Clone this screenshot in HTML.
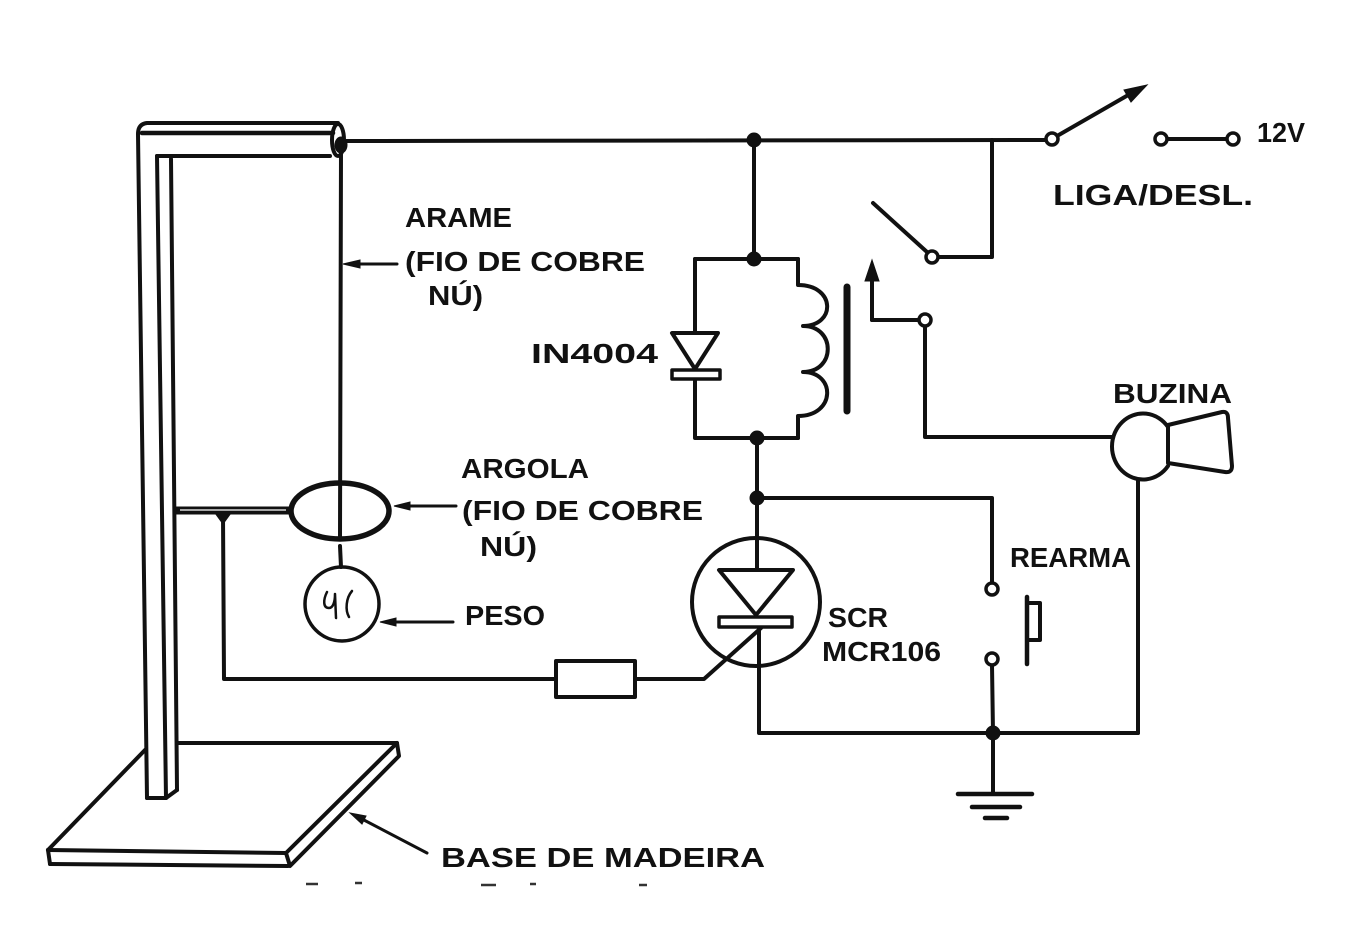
<!DOCTYPE html>
<html><head><meta charset="utf-8"><style>
html,body{margin:0;padding:0;background:#fff;}
svg{display:block;}
text{font-family:"Liberation Sans",sans-serif;font-weight:bold;fill:#111;}
</style></head><body>
<svg width="1361" height="929" viewBox="0 0 1361 929" xmlns="http://www.w3.org/2000/svg">
<rect width="1361" height="929" fill="#fff"/>
<g stroke="#111" stroke-width="4" fill="none" stroke-linecap="round" stroke-linejoin="round">
<!-- stand -->
<path d="M147,798 L138,134 Q138,124 147,123 L338,123"/>
<path d="M142,133 L333,133" stroke-width="4.5"/>
<path d="M157,156 L330,156"/>
<path d="M157,156 L166,798"/>
<path d="M171,159 L177,790"/>
<path d="M147,798 L166,798 L177,790"/>
<ellipse cx="338" cy="140" rx="6" ry="16"/>
<!-- base -->
<path d="M177,743 L397,743"/>
<path d="M145,750 L48,850"/>
<path d="M48,850 L286,853"/>
<path d="M50,864 L288,866"/>
<path d="M48,850 L50,864"/>
<path d="M286,853 L397,743 L399,756 L290,866 L286,853"/>
<!-- argola support -->
<path d="M176,510.5 L290,510.5" stroke-width="8" stroke-linecap="butt"/>
<ellipse cx="340" cy="511" rx="49" ry="28" stroke-width="5.5"/>
<!-- arame wire -->
<path d="M341,150 L340,538 M340,546 L341,567"/>
<!-- peso -->
<circle cx="342" cy="604" r="37" stroke-width="3.5"/>
<path d="M327,592 C323,600 323,608 329,608 C333,608 335,602 335,594 M335,594 L336,618 M352,591 C346,598 345,610 349,617" stroke-width="2.5"/>
<!-- gate wire + resistor -->
<path d="M223,515 L224,679 L556,679"/>
<rect x="556" y="661" width="79" height="36" stroke-width="4"/>
<path d="M635,679 L704,679 L761,628"/>
<!-- top wire -->
<path d="M343,141 L1046,140"/>
<path d="M754,140 L754,259"/>
<!-- relay coil branch -->
<path d="M695,259 L798,259"/>
<path d="M695,259 L695,333"/>
<path d="M695,380 L695,438 L798,438"/>
<path d="M798,259 V285 C836,285 836,326 803,326 C836,326 836,372 803,372 C836,372 836,416 798,416 V438"/>
<path d="M847,287 L847,411" stroke-width="7"/>
<!-- relay contacts -->
<path d="M872,320 L872,278"/>
<path d="M872,320 L919,320"/>
<path d="M925,326 L925,437 L1112,437"/>
<path d="M927,252 L873,203"/>
<path d="M938,257 L992,257 L992,140"/>
<!-- main switch -->
<path d="M1057,136 L1130,94"/>
<path d="M1167,139 L1227,139"/>
<!-- SCR -->
<circle cx="756" cy="602" r="64" stroke-width="4"/>
<path d="M757,438 L757,570"/>
<path d="M759,627 L759,733 L1138,733"/>
<path d="M1138,480 L1138,733"/>
<!-- rearma -->
<path d="M757,498 L992,498 L992,582"/>
<path d="M992,665 L993,733 L993,793"/>
<path d="M958,794 L1032,794" stroke-width="4.5"/>
<path d="M972,807 L1020,807" stroke-width="4.5"/>
<path d="M985,818 L1007,818" stroke-width="4.5"/>
<path d="M1027,597 L1027,664" stroke-width="4.5"/>
<path d="M1027,603 H1040 V640 H1027"/>
<!-- buzzer -->
<path d="M1168,427 A31 33 0 1 0 1168,466"/>
<path d="M1168,425 L1222,412 Q1228,411 1228,418 L1232,466 Q1232,473 1225,472 L1168,463 Z"/>
<!-- label arrows -->
<path d="M355,264 L397,264" stroke-width="3"/>
<path d="M406,506 L456,506" stroke-width="3"/>
<path d="M392,622 L453,622" stroke-width="3"/>
<path d="M362,819 L427,853" stroke-width="3"/>
</g>
<!-- highlight in support bar -->
<path d="M180,510 L286,510" stroke="#fff" stroke-width="1.2"/>
<!-- filled parts -->
<g fill="#111" stroke="#111" stroke-width="1">
<ellipse cx="341" cy="145" rx="6" ry="8"/>
<path d="M215,513 L231,513 L223,524 Z"/>
<circle cx="754" cy="140" r="7"/>
<circle cx="754" cy="259" r="7"/>
<circle cx="757" cy="438" r="7"/>
<circle cx="757" cy="498" r="7"/>
<circle cx="993" cy="733" r="7"/>
<polygon points="872,260 865,281 879,281"/>
<polygon points="1147,85 1131,102 1124,90"/>
<polygon points="343,264 360,260 360,268"/>
<polygon points="394,506 410,502 410,510"/>
<polygon points="380,622 396,618 396,626"/>
<polygon points="350,813 366,816 362,824"/>
</g>
<!-- diode / scr symbols -->
<g stroke="#111" stroke-width="4" fill="#fff" stroke-linejoin="round">
<polygon points="672,333 718,333 695,369"/>
<rect x="672" y="370" width="48" height="9" stroke-width="3.5"/>
<polygon points="719,570 793,570 756,615"/>
<rect x="719" y="617" width="73" height="10" stroke-width="3.5"/>
</g>
<!-- terminals -->
<g stroke="#111" stroke-width="3.5" fill="#fff">
<circle cx="932" cy="257" r="6"/>
<circle cx="925" cy="320" r="6"/>
<circle cx="1052" cy="139" r="6"/>
<circle cx="1161" cy="139" r="6"/>
<circle cx="1233" cy="139" r="6"/>
<circle cx="992" cy="589" r="6"/>
<circle cx="992" cy="659" r="6"/>
</g>
<!-- caption fragments -->
<g stroke="#333" stroke-width="2.5">
<path d="M306,884 L318,884 M355,883 L362,883 M481,885 L496,885 M530,884 L536,884 M639,885 L647,885"/>
</g>
<!-- labels -->
<g font-size="28">
<text x="405" y="227" textLength="107" lengthAdjust="spacingAndGlyphs">ARAME</text>
<text x="405" y="271" textLength="240" lengthAdjust="spacingAndGlyphs">(FIO DE COBRE</text>
<text x="428" y="305" textLength="55" lengthAdjust="spacingAndGlyphs">NÚ)</text>
<text x="531" y="363" textLength="127" lengthAdjust="spacingAndGlyphs">IN4004</text>
<text x="461" y="478" textLength="128" lengthAdjust="spacingAndGlyphs">ARGOLA</text>
<text x="462" y="520" textLength="241" lengthAdjust="spacingAndGlyphs">(FIO DE COBRE</text>
<text x="480" y="556" textLength="57" lengthAdjust="spacingAndGlyphs">NÚ)</text>
<text x="465" y="625" textLength="80" lengthAdjust="spacingAndGlyphs">PESO</text>
<text x="1113" y="403" textLength="119" lengthAdjust="spacingAndGlyphs">BUZINA</text>
<text x="1010" y="567" textLength="121" lengthAdjust="spacingAndGlyphs">REARMA</text>
<text x="828" y="627" textLength="60" lengthAdjust="spacingAndGlyphs">SCR</text>
<text x="822" y="661" textLength="119" lengthAdjust="spacingAndGlyphs">MCR106</text>
<text x="441" y="867" textLength="324" lengthAdjust="spacingAndGlyphs">BASE DE MADEIRA</text>
<text x="1053" y="205" font-size="29" textLength="200" lengthAdjust="spacingAndGlyphs">LIGA/DESL.</text>
<text x="1257" y="142" textLength="48" lengthAdjust="spacingAndGlyphs">12V</text>
</g>
</svg>
</body></html>
